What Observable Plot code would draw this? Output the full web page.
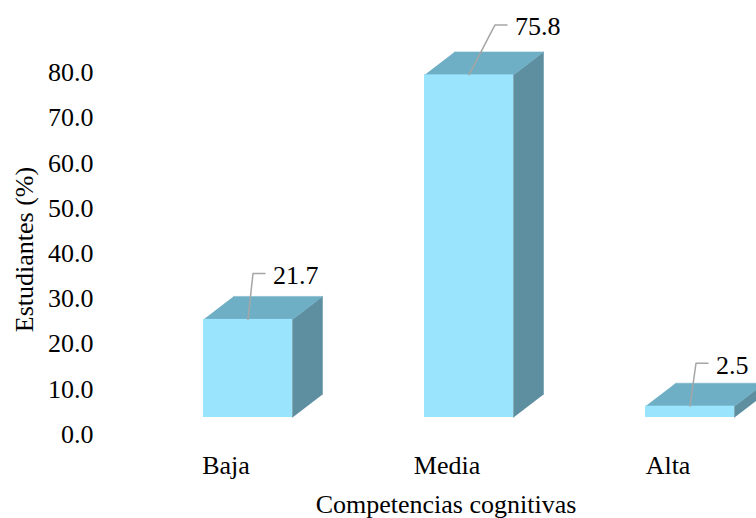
<!DOCTYPE html>
<html><head><meta charset="utf-8">
<script src="https://cdn.jsdelivr.net/npm/d3@7"></script>
<script src="https://cdn.jsdelivr.net/npm/@observablehq/plot@0.6"></script>
<style>html,body{margin:0;padding:0;background:#fff;overflow:hidden}</style>
</head><body><div id="chart"></div>
<script>
// ---- data ----
const categories = ["Baja", "Media", "Alta"];
const values = [21.7, 75.8, 2.5];
const valueLabels = ["21.7", "75.8", "2.5"];
const yTicks = [0, 10, 20, 30, 40, 50, 60, 70, 80];
const xTitle = "Competencias cognitivas";
const yTitle = "Estudiantes (%)";

// ---- layout (pixels) ----
const W = 756, H = 518;
const mL = 247.5, mR = 66.5, mT = 55.4, mB = 101;
const pxX = (W - mL - mR) / 2;      // px per category step
const pxY = (H - mT - mB) / 80;     // px per percent
const halfW = 44.5 / pxX, depthX = 30 / pxX, depthY = 23 / pxY;
const leaderDx = [5, 26, 6], leaderDy = [-46, -50, -43]; // elbow offsets (px)

const colFront = "#9AE4FE", colTop = "#6EAFC5", colSide = "#5E8FA1", colLeader = "#A6A6A6";

const bars = categories.map((c, i) => ({i, c, v: values[i]}));
const topPts = bars.flatMap(b => [
  [b.i - halfW, b.v], [b.i + halfW, b.v],
  [b.i + halfW + depthX, b.v + depthY], [b.i - halfW + depthX, b.v + depthY]
].map(([x, y]) => ({id: b.c, x, y})));
const sidePts = bars.flatMap(b => [
  [b.i + halfW, 0], [b.i + halfW, b.v],
  [b.i + halfW + depthX, b.v + depthY], [b.i + halfW + depthX, depthY]
].map(([x, y]) => ({id: b.c, x, y})));
const leaderPts = bars.flatMap(b => {
  const ex = b.i + leaderDx[b.i] / pxX, ey = b.v - leaderDy[b.i] / pxY;
  return [[b.i, b.v], [ex, ey], [ex + 12 / pxX, ey]].map(([x, y]) => ({id: b.c, x, y}));
});
const labelPts = bars.map(b => ({
  x: b.i + (leaderDx[b.i] + 20) / pxX,
  y: b.v - leaderDy[b.i] / pxY,
  t: valueLabels[b.i]
}));

const chart = Plot.plot({
  width: W, height: H,
  marginLeft: mL, marginRight: mR, marginTop: mT, marginBottom: mB,
  style: {fontFamily: '"Liberation Serif", "Times New Roman", serif', fontSize: "26px", color: "#000", background: "#fff", overflow: "visible"},
  x: {type: "linear", domain: [0, 2], range: [mL, W - mR], axis: null},
  y: {type: "linear", domain: [0, 80], range: [H - mB, mT], axis: null},
  marks: [
    Plot.line(sidePts, {x: "x", y: "y", z: "id", fill: colSide, stroke: colSide, strokeWidth: 0.5}),
    Plot.line(topPts, {x: "x", y: "y", z: "id", fill: colTop, stroke: colTop, strokeWidth: 0.5}),
    Plot.rect(bars, {x1: d => d.i - halfW, x2: d => d.i + halfW, y1: 0, y2: "v", fill: colFront}),
    Plot.line(leaderPts, {x: "x", y: "y", z: "id", stroke: colLeader, strokeWidth: 1.5}),
    Plot.text(labelPts, {x: "x", y: "y", text: "t", textAnchor: "start", lineAnchor: "middle", dy: 2, fontSize: 26, fill: "#000"}),
    Plot.axisX({ticks: [0, 1, 2], tickFormat: i => categories[i], tickSize: 0, tickPadding: 38, dx: -22, label: null, fontSize: 26}),
    Plot.axisY({ticks: yTicks, tickFormat: d => d.toFixed(1), tickSize: 0, tickPadding: 154.5, dy: 17, label: null, fontSize: 26}),
    Plot.text([xTitle], {frameAnchor: "bottom", dx: 445.5 - (mL + W - mR) / 2, dy: 512 - (H - mB), lineAnchor: "bottom", textAnchor: "middle", fontSize: 26, fill: "#000"}),
    Plot.text([yTitle], {frameAnchor: "left", rotate: -90, dx: 32 - mL, dy: 249 - (mT + H - mB) / 2, lineAnchor: "bottom", textAnchor: "middle", fontSize: 26, fill: "#000"})
  ]
});
document.getElementById("chart").appendChild(chart);
</script>
</body></html>
